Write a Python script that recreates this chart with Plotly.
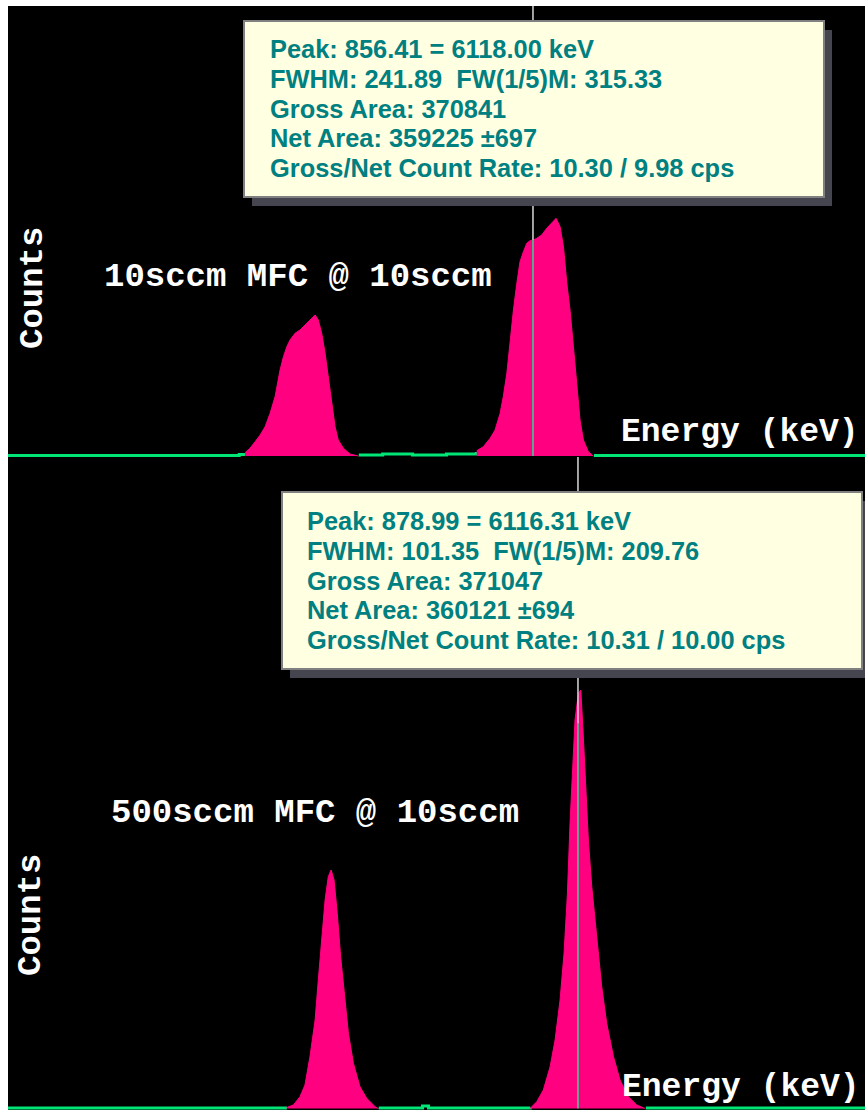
import plotly.graph_objects as go

# ---------------- data (channels / counts) ----------------
x_range = [593, 1023]

# top spectrum: "10sccm MFC @ 10sccm"
top_bg_ch = [593, 708, 709, 712, None, 769, 780, 781, 795, 796, 812, 813, 826, 828, None, 887, 1023]
top_bg_counts = [5, 5, 15, 15, None, 10, 10, 20, 20, 10, 10, 20, 20, 40, None, 5, 5]

top_roi1_ch = [711.9, 714.4, 717.0, 719.5, 722.0, 724.5, 727.0, 729.5, 731.2, 732.9, 734.5, 737.0, 739.5,
               742.0, 744.5, 747.1, 748.7, 750.4, 752.1, 753.7, 755.4, 757.1, 758.7, 761.3, 764.6, 768.8]
top_roi1_counts = [33, 77, 143, 210, 293, 427, 593, 860, 993, 1093, 1160, 1227, 1260,
                   1310, 1360, 1410, 1360, 1227, 1027, 793, 493, 293, 160, 77, 20, 0]

top_roi2_ch = [828.2, 831.5, 834.9, 837.4, 839.9, 841.5, 843.3, 844.9, 846.6, 848.3, 849.9, 851.6, 853.3,
               854.9, 856.6, 858.3, 860.8, 863.3, 865.8, 868.0, 870.0, 871.7, 873.4, 875.0, 876.7, 878.4,
               880.0, 881.7, 884.2, 886.7]
top_roi2_counts = [53, 93, 177, 260, 427, 593, 827, 1160, 1460, 1727, 1943, 2043, 2127,
                   2153, 2160, 2177, 2210, 2277, 2327, 2377, 2293, 2093, 1727, 1460, 1093, 693,
                   360, 160, 43, 0]

top_cursor_ch = 856.41
top_cursor_counts = 2160
top_y_range = [-10, 4500]

# bottom spectrum: "500sccm MFC @ 10sccm"
bot_bg_ch = [593, 730, 733, None, 779, 800, 801, 803, 804, 850, 855, None, 913, 1023]
bot_bg_counts = [5, 5, 5, None, 5, 5, 25, 25, 5, 5, 10, None, 5, 5]

bot_roi1_ch = [732.8, 736.2, 739.5, 742.0, 744.5, 747.1, 748.7, 750.4, 752.1, 753.7, 755.1, 756.6,
               758.2, 759.9, 761.6, 763.8, 766.3, 769.6, 773.0, 777.2, 778.8]
bot_roi1_counts = [10, 35, 118, 235, 518, 885, 1285, 1685, 2085, 2318, 2385, 2285,
                   1952, 1518, 1152, 752, 452, 218, 102, 18, 0]

bot_roi2_ch = [854.9, 858.3, 861.6, 865.0, 867.5, 870.0, 872.0, 873.7, 875.0, 876.4, 877.5, 879.2,
               880.4, 881.5, 882.6, 884.2, 885.9, 888.4, 890.9, 893.4, 896.8, 900.1, 904.3, 908.5, 912.6]
bot_roi2_counts = [0, 68, 185, 418, 685, 1085, 1552, 2152, 2852, 3418, 3885, 4152,
                   4185, 3785, 3352, 2685, 2218, 1685, 1218, 852, 518, 285, 118, 35, 0]

bot_cursor_ch = 878.99
bot_cursor_counts = 3850
bot_y_range = [-15, 6515]

# text
top_label = "10sccm MFC @ 10sccm"
bot_label = "500sccm MFC @ 10sccm"
y_title = "Counts"
x_title = "Energy (keV)"
top_info = ["Peak: 856.41 = 6118.00 keV",
            "FWHM: 241.89  FW(1/5)M: 315.33",
            "Gross Area: 370841",
            "Net Area: 359225 \u00b1697",
            "Gross/Net Count Rate: 10.30 / 9.98 cps"]
bot_info = ["Peak: 878.99 = 6116.31 keV",
            "FWHM: 101.35  FW(1/5)M: 209.76",
            "Gross Area: 371047",
            "Net Area: 360121 \u00b1694",
            "Gross/Net Count Rate: 10.31 / 10.00 cps"]

# ---------------- styling ----------------
W, H, L, T = 865, 1110, 8, 6
GREEN = "#00e676"
MAGENTA = "#ff0080"
CURSOR_W = "#d8d8d8"
CURSOR_G = "#30d890"
TEAL = "#008080"
BOX_BG = "#ffffe1"
BOX_LINE = "#808080"
SHADOW = "#45454f"
MONO = "Liberation Mono"
SANS = "Liberation Sans"


def px(x):
    return (x - L) / (W - L)


def py(y):
    return (H - y) / (H - T)


split = py(457)

fig = go.Figure()


def spectrum(bg_ch, bg_counts, rois, xa, ya):
    fig.add_trace(go.Scatter(x=bg_ch, y=bg_counts, mode="lines", line=dict(color=GREEN, width=3, shape="hv"),
                             connectgaps=False, hoverinfo="skip", xaxis=xa, yaxis=ya, showlegend=False))
    for ch, cnt in rois:
        fig.add_trace(go.Scatter(x=ch, y=cnt, mode="lines", fill="tozeroy", fillcolor=MAGENTA,
                                 line=dict(color=MAGENTA, width=1), hoverinfo="skip",
                                 xaxis=xa, yaxis=ya, showlegend=False))


spectrum(top_bg_ch, top_bg_counts, [(top_roi1_ch, top_roi1_counts), (top_roi2_ch, top_roi2_counts)], "x", "y")
spectrum(bot_bg_ch, bot_bg_counts, [(bot_roi1_ch, bot_roi1_counts), (bot_roi2_ch, bot_roi2_counts)], "x2", "y2")

shapes = []
# cursors
for xc, yc, yr, xa, ya in [(top_cursor_ch, top_cursor_counts, top_y_range, "x", "y"),
                           (bot_cursor_ch, bot_cursor_counts, bot_y_range, "x2", "y2")]:
    shapes.append(dict(type="line", xref=xa, yref=ya, x0=xc, x1=xc, y0=0, y1=yc,
                       line=dict(color=CURSOR_G, width=1.5), layer="above"))
    shapes.append(dict(type="line", xref=xa, yref=ya, x0=xc, x1=xc, y0=yc, y1=yr[1],
                       line=dict(color=CURSOR_W, width=1.5), layer="above"))

annotations = []


def info_box(bx0, by0, bx1, by1, lines, tx, ty0, dy):
    shapes.append(dict(type="rect", xref="paper", yref="paper", x0=px(bx0 + 8), x1=px(bx1 + 8),
                       y0=py(by1 + 9), y1=py(by0 + 9), fillcolor=SHADOW, line=dict(width=0), layer="above"))
    shapes.append(dict(type="rect", xref="paper", yref="paper", x0=px(bx0), x1=px(bx1),
                       y0=py(by1), y1=py(by0), fillcolor=BOX_BG, line=dict(color=BOX_LINE, width=2),
                       layer="above"))
    for i, t in enumerate(lines):
        annotations.append(dict(text=t, xref="paper", yref="paper", x=px(tx), y=py(ty0 + i * dy),
                                xanchor="left", yanchor="middle", showarrow=False,
                                font=dict(family=SANS, size=25.4, color=TEAL, weight="bold")))


info_box(244, 21, 824, 197, top_info, 268, 49, 29.8)
info_box(282, 492, 862, 669, bot_info, 305, 521, 29.8)


def mono(text, x, y, xanchor="left", angle=0, size=34):
    annotations.append(dict(text=text, xref="paper", yref="paper", x=px(x), y=py(y), xanchor=xanchor,
                            yanchor="middle", showarrow=False, textangle=angle,
                            font=dict(family=MONO, size=size, color="white", weight="bold")))


mono(top_label, 102, 277)
mono(bot_label, 109, 813)
mono(x_title, 619, 432, size=33)
mono(x_title, 620, 1087, size=33)
mono(y_title, 33, 288, xanchor="center", angle=-90)
mono(y_title, 31, 915, xanchor="center", angle=-90)

axis_common = dict(range=x_range, showgrid=False, zeroline=False, showticklabels=False, ticks="",
                   showline=False, fixedrange=True)
yaxis_common = dict(showgrid=False, zeroline=False, showticklabels=False, ticks="", showline=False,
                    fixedrange=True)

fig.update_layout(
    width=W, height=H,
    margin=dict(l=L, r=0, t=T, b=0, pad=0),
    paper_bgcolor="white",
    plot_bgcolor="black",
    xaxis=dict(domain=[0, 1], anchor="y", **axis_common),
    yaxis=dict(domain=[split, 1], range=top_y_range, anchor="x", **yaxis_common),
    xaxis2=dict(domain=[0, 1], anchor="y2", **axis_common),
    yaxis2=dict(domain=[0, split], range=bot_y_range, anchor="x2", **yaxis_common),
    shapes=shapes,
    annotations=annotations,
    showlegend=False,
)

fig.write_html("out.html", config={"displayModeBar": False},
               post_script="document.body.style.margin='0';document.body.style.overflow='hidden';")
